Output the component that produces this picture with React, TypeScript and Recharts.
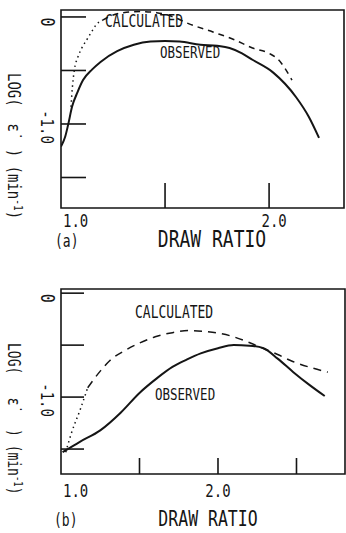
import React from 'react';
import { LineChart, Line, XAxis, YAxis, ReferenceArea } from 'recharts';

// panel (a)
const obsRatioA = [1.0, 1.02, 1.034, 1.053, 1.08, 1.106, 1.15, 1.19, 1.27, 1.35, 1.43, 1.5, 1.57, 1.67, 1.75, 1.81, 1.87, 1.92, 2.02, 2.13, 2.19, 2.24];
const obsLogA = [-1.21, -1.12, -1.01, -0.84, -0.7, -0.59, -0.49, -0.42, -0.32, -0.26, -0.23, -0.225, -0.23, -0.26, -0.27, -0.29, -0.34, -0.4, -0.52, -0.75, -0.93, -1.13];
const calcDotRatioA = [1.048, 1.055, 1.063, 1.082, 1.1, 1.125, 1.15, 1.17, 1.2];
const calcDotLogA = [-0.84, -0.65, -0.51, -0.37, -0.29, -0.21, -0.13, -0.07, -0.03];
const calcDashRatioA = [1.2, 1.24, 1.3, 1.38, 1.46, 1.54, 1.61, 1.73, 1.83, 1.92, 2.0, 2.04, 2.11];
const calcDashLogA = [-0.03, 0.01, 0.04, 0.05, 0.04, 0.0, -0.06, -0.14, -0.21, -0.29, -0.34, -0.39, -0.59];

// panel (b)
const obsRatioB = [1.01, 1.12, 1.25, 1.38, 1.5, 1.61, 1.71, 1.8, 1.89, 2.0, 2.1, 2.2, 2.29, 2.38, 2.48, 2.58, 2.68];
const obsLogB = [-1.53, -1.43, -1.32, -1.15, -0.96, -0.82, -0.71, -0.64, -0.58, -0.53, -0.5, -0.505, -0.53, -0.63, -0.76, -0.88, -0.99];
const calcDotRatioB = [1.03, 1.07, 1.12, 1.17];
const calcDotLogB = [-1.53, -1.33, -1.13, -0.91];
const calcDashRatioB = [1.17, 1.25, 1.31, 1.41, 1.5, 1.6, 1.71, 1.82, 1.92, 2.02, 2.1, 2.19, 2.27, 2.38, 2.48, 2.6, 2.7];
const calcDashLogB = [-0.91, -0.75, -0.65, -0.55, -0.48, -0.42, -0.38, -0.36, -0.37, -0.39, -0.42, -0.47, -0.52, -0.59, -0.66, -0.72, -0.76];

const yTicks = [0, -0.5, -1.0, -1.5];
const yTickLabels: Record<string, string> = { '0': '0', '-1': '-1.0' };
const xTicksA = [1.0, 1.5, 2.0];
const xTicksB = [1.0, 1.5, 2.0, 2.5];
const xTickLabels: Record<string, string> = { '1': '1.0', '2': '2.0' };

const pts = (xs: number[], ys: number[]) => xs.map((x, i) => ({ x, y: ys[i] }));

const FONT = '"DejaVu Sans Mono", monospace';
const INK = '#151515';

const PlotText = ({ x, y, size, rotate = 0, anchor = 'start', children }: any) => (
  <text
    transform={`translate(${x},${y}) rotate(${rotate}) scale(1,1.3)`}
    fontFamily={FONT}
    fontSize={size}
    textAnchor={anchor}
    fill={INK}
    style={{ whiteSpace: 'pre' }}
  >
    {children}
  </text>
);

const makeYTick = (len: number, labelDx: number) => (props: any) => {
  const { x, y, payload } = props;
  const lbl = yTickLabels[String(payload.value)];
  return (
    <g>
      <line x1={x} y1={y} x2={x + len} y2={y} stroke={INK} strokeWidth={1.6} />
      {lbl && (
        <PlotText x={x - labelDx} y={y + (lbl === '0' ? 5 : 3)} size={lbl === '0' ? 15 : 14} rotate={90} anchor="middle">
          {lbl}
        </PlotText>
      )}
    </g>
  );
};

const makeXTick = (len: number, labelDy: number, shift2: number) => (props: any) => {
  const { x, y, payload } = props;
  const v = payload.value;
  const lbl = xTickLabels[String(v)];
  return (
    <g>
      {v !== 1 && <line x1={x} y1={y} x2={x} y2={y - len} stroke={INK} strokeWidth={1.6} />}
      {lbl && (
        <PlotText x={v === 1 ? x + 2 : x + shift2} y={y + labelDy} size={14} anchor={v === 1 ? 'start' : 'middle'}>
          {lbl}
        </PlotText>
      )}
    </g>
  );
};

const Panel = ({ width, height, margin, xDomain, yDomain, xTicks, yTickLen, xTickLen, labelDy, shift2, obs, calcDot, calcDash, dash }: any) => (
  <LineChart width={width} height={height} margin={margin}>
    <XAxis
      type="number"
      dataKey="x"
      domain={xDomain}
      ticks={xTicks}
      allowDataOverflow
      axisLine={false}
      tickLine={false}
      tickSize={0}
      tickMargin={0}
      height={26}
      interval={0}
      tick={makeXTick(xTickLen, labelDy, shift2)}
    />
    <YAxis
      type="number"
      dataKey="y"
      domain={yDomain}
      ticks={yTicks}
      allowDataOverflow
      axisLine={false}
      tickLine={false}
      tickSize={0}
      tickMargin={0}
      width={61}
      interval={0}
      tick={makeYTick(yTickLen, 20)}
    />
    <ReferenceArea x1={xDomain[0]} x2={xDomain[1]} y1={yDomain[0]} y2={yDomain[1]} fill="none" stroke={INK} strokeWidth={1.6} />
    <Line data={obs} dataKey="y" type="monotone" stroke={INK} strokeWidth={2} dot={false} isAnimationActive={false} />
    <Line data={calcDot} dataKey="y" type="monotone" stroke={INK} strokeWidth={1.5} strokeDasharray="1.5 3.5" dot={false} isAnimationActive={false} />
    <Line data={calcDash} dataKey="y" type="monotone" stroke={INK} strokeWidth={1.5} strokeDasharray={dash} dot={false} isAnimationActive={false} />
  </LineChart>
);

export default function App() {
  return (
    <div style={{ position: 'absolute', left: 0, top: 0, width: 346, height: 533, background: '#fff', overflow: 'hidden' }}>
      <div style={{ position: 'absolute', left: 0, top: 0 }}>
        <Panel
          width={346}
          height={260}
          margin={{ top: 10, right: 2, left: 0, bottom: 26 }}
          xDomain={[1.0, 2.36]}
          yDomain={[-1.785, 0.065]}
          xTicks={xTicksA}
          yTickLen={25}
          xTickLen={25}
          labelDy={19}
          shift2={5}
          obs={pts(obsRatioA, obsLogA)}
          calcDot={pts(calcDotRatioA, calcDotLogA)}
          calcDash={pts(calcDashRatioA, calcDashLogA)}
          dash="6 5"
        />
      </div>
      <div style={{ position: 'absolute', left: 0, top: 270 }}>
        <Panel
          width={346}
          height={230}
          margin={{ top: 19, right: 1, left: 0, bottom: 0 }}
          xDomain={[1.0, 2.809]}
          yDomain={[-1.74, 0.04]}
          xTicks={xTicksB}
          yTickLen={23}
          xTickLen={16}
          labelDy={23}
          shift2={0}
          obs={pts(obsRatioB, obsLogB)}
          calcDot={pts(calcDotRatioB, calcDotLogB)}
          calcDash={pts(calcDashRatioB, calcDashLogB)}
          dash="8 6"
        />
      </div>
      <svg width={346} height={533} style={{ position: 'absolute', left: 0, top: 0, pointerEvents: 'none' }}>
        {/* panel (a) annotations */}
        <PlotText x={105} y={27} size={13}>CALCULATED</PlotText>
        <PlotText x={160} y={58} size={12.5}>OBSERVED</PlotText>
        <PlotText x={8} y={73} size={14} rotate={90}>
          {'LOG(  \u03b5\u0307  ) (min'}
          <tspan fontSize={9.5} dy={-5}>-1</tspan>
          <tspan dy={5}>)</tspan>
        </PlotText>
        <PlotText x={55} y={247} size={13}>(a)</PlotText>
        <PlotText x={212} y={247} size={18} anchor="middle">DRAW RATIO</PlotText>

        {/* panel (b) annotations */}
        <PlotText x={135} y={318} size={13}>CALCULATED</PlotText>
        <PlotText x={155} y={400} size={12.5}>OBSERVED</PlotText>
        <PlotText x={8} y={343} size={13} rotate={90}>
          {'LOG(   \u03b5\u0307   ) (min'}
          <tspan fontSize={9} dy={-5}>-1</tspan>
          <tspan dy={5}>)</tspan>
        </PlotText>
        <PlotText x={54} y={526} size={13}>(b)</PlotText>
        <PlotText x={208} y={526} size={16.5} anchor="middle">DRAW RATIO</PlotText>
      </svg>
    </div>
  );
}
